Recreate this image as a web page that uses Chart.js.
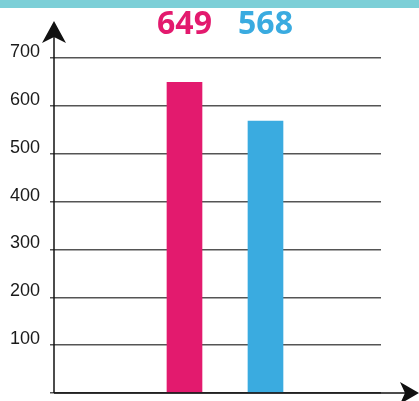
<!DOCTYPE html>
<html>
<head>
<meta charset="utf-8">
<script src="https://cdn.jsdelivr.net/npm/chart.js@4"></script>
<style>
  html, body { margin: 0; padding: 0; background: #fff; }
  canvas { display: block; }
</style>
</head>
<body>
<canvas id="chart" width="419" height="401"></canvas>
<script>
// data
const categories = ['A', 'B'];
const values = [649, 568];
const barColors = ['#e31a6e', '#3aabe0'];
const yTicks = [0, 100, 200, 300, 400, 500, 600, 700];
const yTickLabels = ['', '100', '200', '300', '400', '500', '600', '700'];

// top band, axis arrows and value labels
const decor = {
    id: 'decor',
    beforeDraw(chart) {
        const ctx = chart.ctx;
        ctx.save();
        ctx.fillStyle = '#7ccfd7';
        ctx.fillRect(0, 0, chart.width, 8);
        ctx.restore();
    },
    afterDraw(chart) {
        const ctx = chart.ctx;
        const a = chart.chartArea;
        const x0 = a.left, y0 = a.bottom;
        ctx.save();
        ctx.strokeStyle = '#111';
        ctx.fillStyle = '#111';
        ctx.lineWidth = 1.5;
        // y axis up to arrow
        ctx.beginPath();
        ctx.moveTo(x0, y0);
        ctx.lineTo(x0, 35);
        ctx.stroke();
        ctx.beginPath();
        ctx.moveTo(x0, 21);
        ctx.lineTo(x0 - 12, 43);
        ctx.lineTo(x0, 37);
        ctx.lineTo(x0 + 12, 43);
        ctx.closePath();
        ctx.fill();
        // x axis out to arrow
        ctx.beginPath();
        ctx.moveTo(x0, y0);
        ctx.lineTo(408, y0);
        ctx.stroke();
        ctx.beginPath();
        ctx.moveTo(419, y0);
        ctx.lineTo(400, y0 - 11);
        ctx.lineTo(405, y0);
        ctx.lineTo(400, y0 + 11);
        ctx.closePath();
        ctx.fill();
        // values above
        const meta = chart.getDatasetMeta(0);
        ctx.font = 'bold 32px "Open Sans"';
        ctx.textAlign = 'center';
        ctx.textBaseline = 'middle';
        meta.data.forEach((bar, i) => {
            ctx.fillStyle = barColors[i];
            ctx.fillText(String(values[i]), bar.x, 25);
        });
        ctx.restore();
    }
};

new Chart(document.getElementById('chart'), {
    type: 'bar',
    data: {
        labels: categories,
        datasets: [{
            data: values.map((v, i) => ({ x: i, y: v })),
            backgroundColor: barColors,
            borderWidth: 0,
            barThickness: 35
        }]
    },
    options: {
        responsive: false,
        animation: false,
        layout: { padding: { left: 10, top: 58, right: 38, bottom: 8 } },
        plugins: { legend: { display: false }, tooltip: { enabled: false } },
        scales: {
            x: { type: 'linear', min: -1.611, max: 2.426, offset: false, display: false },
            y: {
                min: 0, max: 700,
                border: { display: false },
                grid: { color: '#555', lineWidth: 1.5, tickLength: 4 },
                afterBuildTicks: s => { s.ticks = yTicks.map(v => ({ value: v })); },
                afterFit: s => { s.width = 44; s.paddingTop = 0; s.paddingBottom = 0; },
                ticks: {
                    crossAlign: 'far',
                    labelOffset: -6,
                    color: '#1a1a1a',
                    font: { family: '"Liberation Sans"', size: 18 },
                    callback: (v) => yTickLabels[yTicks.indexOf(v)]
                }
            }
        }
    },
    plugins: [decor]
});
</script>
</body>
</html>
